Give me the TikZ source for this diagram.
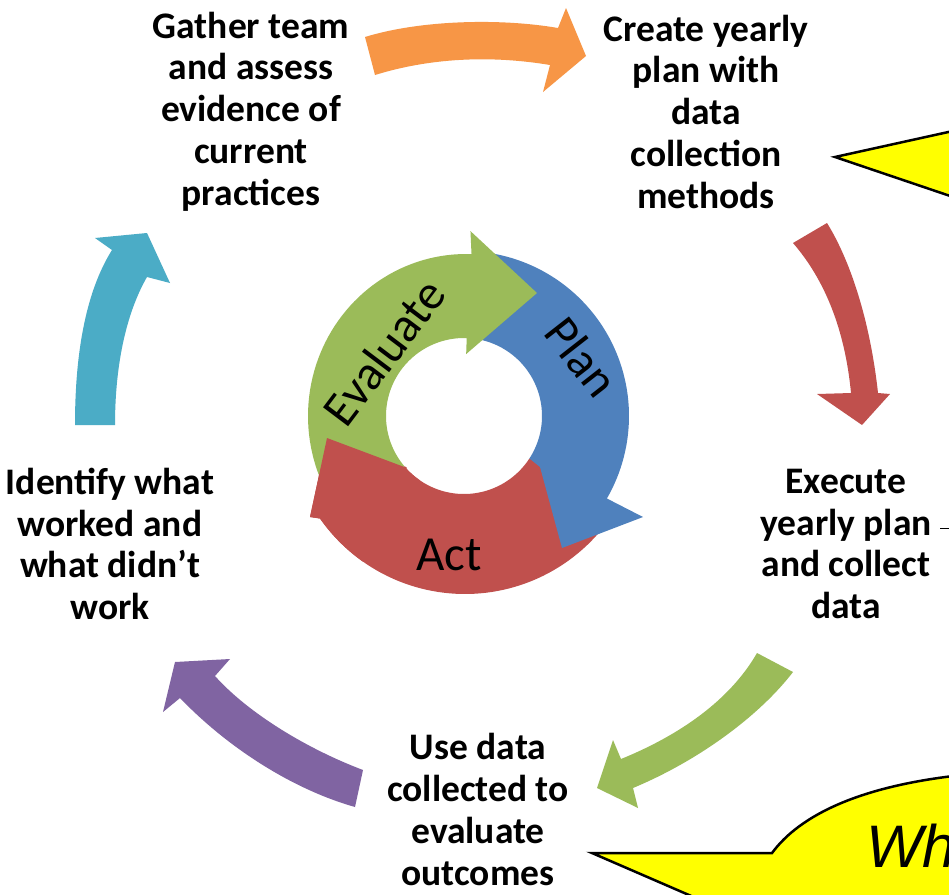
\documentclass[tikz,border=0pt]{standalone}
\usepackage{fontspec}
\setmainfont{Carlito}
\newfontfamily\calloutfont{Liberation Sans}
\usetikzlibrary{calc}
\definecolor{corange}{HTML}{F79646}
\definecolor{cred}{HTML}{C0504D}
\definecolor{cgreen}{HTML}{9BBB59}
\definecolor{cpurple}{HTML}{8064A2}
\definecolor{cteal}{HTML}{4BACC6}
\definecolor{cblue}{HTML}{4F81BD}
\definecolor{cyellow}{HTML}{FFFF00}
\tikzset{
  steplabel/.style={font=\bfseries\fontsize{37.5}{41.75}\selectfont, align=center, inner sep=0pt, text=black},
  ringlabel/.style={font=\fontsize{49}{52}\selectfont, inner sep=0pt, text=black},
  callout/.style={fill=cyellow, draw=black, line width=2.5pt, line join=miter},
}
\begin{document}
\begin{tikzpicture}[x=1pt,y=-1pt]
\clip (0,0) rectangle (949,894);
\fill[white] (0,0) rectangle (949,894);

% ---- outer cycle arrows ----
\fill[corange] (365,37) .. controls (420,20) and (500,18) .. (558,28) -- (566,8) -- (586,56) -- (543,92) -- (550,65) .. controls (490,55) and (430,58) .. (375,75) -- cycle;
\fill[cred] (793,243) -- (827,223) .. controls (850,260) and (870,320) .. (878,393) -- (890,394) -- (862,425) -- (817,394) -- (851,393) .. controls (845,330) and (825,280) .. (793,243) -- cycle;
\fill[cgreen] (757,653) -- (793,672) .. controls (760,715) and (700,760) .. (633,788) -- (638,808) -- (597,788) -- (613,740) -- (621,759) .. controls (680,735) and (730,700) .. (757,653) -- cycle;
\fill[cpurple] (363,770) .. controls (310,750) and (250,715) .. (215,676) -- (230,659) -- (175,662) -- (163,712) -- (180,698) .. controls (230,750) and (295,790) .. (355,807) -- cycle;
\fill[cteal] (75,425) .. controls (75,340) and (90,285) .. (112,250) -- (95,238) -- (147,233) -- (170,283) -- (147,277) .. controls (128,310) and (115,360) .. (115,425) -- cycle;

% ---- central ring ----
\fill[cred] plot[domain=31:145,samples=60,variable=\t] ({465+177*cos(\t)},{417+177*sin(\t)}) -- (310,517) -- (327,438) -- (407,468) -- plot[domain=140:33,samples=60,variable=\t] ({464+78*cos(\t)},{416+78*sin(\t)}) -- cycle;
\fill[cblue] plot[domain=275:390,samples=60,variable=\t] ({464+165*cos(\t)},{416+165*sin(\t)}) -- (643,517) -- (562,548) -- (540,467) -- plot[domain=393:275,samples=60,variable=\t] ({464+78*cos(\t)},{416+78*sin(\t)}) -- cycle;
\fill[cgreen] plot[domain=140:272,samples=60,variable=\t] ({466+158*cos(\t)},{416+162*sin(\t)}) -- ({464+185*cos(272)},{416+185*sin(272)}) -- (537,293) -- ({464+62*cos(272)},{416+62*sin(272)}) -- plot[domain=272:140,samples=60,variable=\t] ({464+78*cos(\t)},{416+78*sin(\t)}) -- cycle;
\fill[cred] plot[domain=125:145,samples=20,variable=\t] ({465+177*cos(\t)},{417+177*sin(\t)}) -- (310,517) -- (327,438) -- (407,468) -- plot[domain=140:125,samples=20,variable=\t] ({464+78*cos(\t)},{416+78*sin(\t)}) -- cycle;

\node[ringlabel, rotate=53] (evaluate) at (384,352) {Evaluate};
\node[ringlabel, rotate=-52] (plan) at (582,357) {Plan};
\node[ringlabel] (act) at (449,555) {Act};

% ---- step labels ----
\node[steplabel] (gather) at (251,111.5) {Gather team\\and assess\\evidence of\\current\\practices};
\node[steplabel] (create) at (706,111.5) {Create yearly\\plan with\\data\\collection\\methods};
\node[steplabel] (execute) at (846,544) {Execute\\yearly plan\\and collect\\data};
\node[steplabel] (usedata) at (478,809.5) {Use data\\collected to\\evaluate\\outcomes};
\node[steplabel] (identify) at (110,544) {Identify what\\worked and\\what didn’t\\work};

% ---- callouts ----
\filldraw[callout] (962,129) -- (835,157) -- (962,200) -- cycle;
\filldraw[callout] (592,853) -- (772,853) .. controls (800,815) and (860,786) .. (962,775) -- (962,905) -- (712,905) -- cycle;
\node[font=\calloutfont\itshape\fontsize{60}{60}\selectfont, anchor=base west, inner sep=0pt] (wha) at (866,867) {Wha};

\draw[line width=1pt] (940,528) -- (949,528);
\end{tikzpicture}
\end{document}
